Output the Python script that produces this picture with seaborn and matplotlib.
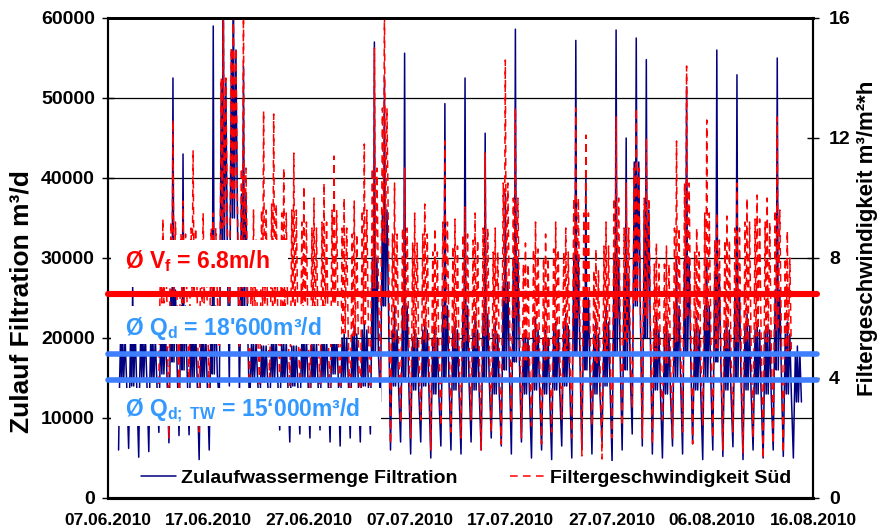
import numpy as np
import pandas as pd
import matplotlib
matplotlib.use('Agg')
import matplotlib.pyplot as plt
from matplotlib.patches import Rectangle
from matplotlib import font_manager
import seaborn as sns

nan = np.nan
# ---------------- data (one set per day, 08.06.2010 .. 15.08.2010)
start_date = '2010-06-08'
# Zulaufwassermenge Filtration [m3/d]
blue_lo = [6000, 6200, 5100, 5800, 8200, 6900, 7800, 7900, 4800, 6000,
           12000, 14000, 13000, 11000, 10000, 10500, 8500, 7000, 8000, 7500,
           8500, 7000, 6500, 7500, 7000, 8000, 12000, 6000, 7000, 5500,
           7000, 5000, 6500, 6000, 5500, 7000, 6000, 7500, 6500, 5500,
           7000, 5000, 6000, 4800, 6500, 5000, 6000, 5500, 7000, 4500,
           6000, 8000, 6500, 5500, 5000, 6500, 5500, 6800, 4800, 6000,
           5200, 6400, 4800, 6000, 5000, 6000, 5200, 5000]
blue_mid = [14500, 14000, 15000, 14500, 15500, 17000, 16000, 15000, 14500, 15500,
            30000, 35000, 22000, 15000, 14500, 15000, 14500, 14000, 15000, 14500,
            15000, 15500, 15000, 14500, 14000, 18000, 24000, 14000, 15000, 13500,
            14000, 13000, 15000, 13500, 14500, 13500, 15000, 13000, 16000, 17000,
            13000, 13500, 13000, 13500, 14000, 18000, 16000, 13000, 14000, 18000,
            16000, 24000, 20000, 13500, 13000, 15000, 18000, 13500, 15000, 17000,
            13500, 15000, 13500, 13000, 13000, 16000, 13000, 12000]
blue_hi = [20000, 21000, 20500, 20000, 21000, 26000, 24000, 21000, 20500, 24000,
           52000, 56000, 38000, 19500, 19000, 20000, 19500, 19000, 20000, 19500,
           20000, 20500, 20000, 20500, 21000, 30000, 36000, 21000, 24000, 20000,
           21000, 20000, 24000, 21000, 24000, 21000, 23000, 20500, 27000, 30000,
           20000, 21000, 20000, 21000, 21500, 30000, 25000, 20500, 22000, 30000,
           28000, 42000, 36000, 21000, 20500, 24000, 30000, 21000, 24000, 28000,
           21000, 26000, 21500, 21000, 21000, 26000, 20500, 18000]
blue_peak = [21000, 26500, 21500, 20500, 22000, 52500, 43000, 22000, 21000, 59000,
             65000, 65000, 54000, 19500, 19000, 20000, 19500, 19000, 20500, 19500,
             20000, 21000, 20500, 21500, 22000, 57000, 52600, 24000, 55600, 21000,
             22000, 21500, 49300, 22000, 52500, 23000, 45600, 22000, 38000, 58600,
             21000, 22500, 21000, 22000, 23000, 57200, 40000, 22000, 24000, 58500,
             45000, 57500, 54800, 23000, 22000, 30000, 51400, 22500, 30000, 56000,
             22000, 52900, 23000, 22000, 21500, 55000, 22000, 19000]
# Filtergeschwindigkeit Sued [m3/m2*h]
red_lo = [nan, nan, nan, nan, 3.8, 2.0, 3.5, 3.9, 2.2, 3.6,
          5.0, 6.0, 5.0, 4.0, 3.8, 4.0, 3.9, 3.7, 3.8, 3.6,
          3.8, 3.5, 3.2, 2.8, 2.5, 3.0, 4.0, 1.8, 2.5, 2.0,
          2.6, 1.6, 2.4, 2.2, 2.0, 2.6, 1.6, 2.2, 1.8, 2.5,
          2.0, 2.4, 1.8, 2.2, 2.6, 2.0, 1.4, 2.4, 1.3, 2.0,
          2.4, 3.0, 2.0, 1.8, 2.6, 2.0, 2.2, 1.8, 2.4, 2.0,
          1.6, 2.2, 1.5, 2.0, 1.3, 1.8, 1.5, nan]
red_mid = [nan, nan, nan, nan, 6.5, 6.8, 6.5, 6.8, 6.5, 6.8,
           9.0, 10.0, 7.0, 5.5, 6.0, 6.2, 6.0, 5.8, 5.6, 5.5,
           5.6, 5.8, 5.5, 5.4, 5.8, 7.0, 8.5, 5.2, 5.6, 5.0,
           5.2, 4.8, 5.6, 5.0, 5.2, 5.0, 5.4, 4.8, 6.5, 6.0,
           4.6, 4.8, 4.6, 4.8, 4.8, 6.0, 5.6, 4.5, 4.8, 6.0,
           5.2, 6.5, 6.0, 4.6, 4.5, 5.2, 6.0, 4.8, 5.6, 5.0,
           5.0, 5.2, 5.2, 5.4, 5.2, 5.6, 4.8, nan]
red_hi = [nan, nan, nan, nan, 8.5, 9.2, 8.8, 9.0, 8.5, 9.0,
          14.0, 15.0, 11.0, 8.6, 9.6, 9.8, 9.5, 9.6, 9.2, 9.0,
          9.2, 9.6, 9.0, 8.8, 9.6, 11.0, 13.0, 8.8, 9.0, 8.5,
          8.8, 8.2, 9.2, 8.4, 8.8, 8.6, 9.0, 8.2, 10.5, 10.0,
          7.8, 8.3, 8.0, 8.3, 8.2, 10.0, 9.5, 7.6, 8.4, 10.0,
          9.0, 11.0, 10.0, 7.8, 7.8, 9.0, 10.5, 8.2, 9.5, 8.6,
          8.6, 9.0, 9.2, 9.3, 9.2, 9.6, 8.0, nan]
red_peak = [nan, nan, nan, nan, 9.3, 12.6, 9.9, 11.6, 9.5, 9.5,
            16.5, 16.5, 16.5, 9.6, 12.9, 12.8, 11.0, 11.5, 10.4, 10.0,
            10.5, 11.4, 10.0, 9.9, 11.8, 15.0, 16.5, 10.5, 11.0, 9.5,
            9.8, 9.0, 11.9, 9.3, 9.7, 9.5, 11.5, 9.0, 14.6, 13.0,
            8.5, 9.2, 8.8, 9.2, 9.0, 13.0, 12.1, 8.3, 9.2, 12.7,
            10.5, 13.0, 12.0, 8.5, 8.4, 11.9, 14.4, 9.0, 12.6, 9.5,
            9.4, 10.5, 10.0, 10.1, 10.0, 12.7, 8.9, nan]

# reference lines
avg_vf = 6.8            # m/h (right axis)
avg_qd_line = 17950     # m3/d (left axis)
avg_qd_tw_line = 14800  # m3/d (left axis)

left_ticks = [0, 10000, 20000, 30000, 40000, 50000, 60000]
right_ticks = [0, 4, 8, 12, 16]
x_tick_labels = ['07.06.2010', '17.06.2010', '27.06.2010', '07.07.2010',
                 '17.07.2010', '27.07.2010', '06.08.2010', '16.08.2010']
series_names = ['Zulaufwassermenge Filtration', 'Filtergeschwindigkeit Süd']

# ---------------- assemble long table (8 samples per day)
day_frac = [0.05, 0.15, 0.25, 0.35, 0.45, 0.55, 0.7, 0.85]
t0 = pd.Timestamp(start_date)
times, bvals, rvals = [], [], []
for i in range(len(blue_lo)):
    bday = [blue_lo[i], blue_mid[i], blue_hi[i], blue_mid[i],
            blue_peak[i], blue_mid[i], blue_hi[i], blue_mid[i]]
    rday = [red_lo[i], red_mid[i], red_hi[i], red_mid[i],
            red_peak[i], red_mid[i], red_hi[i], red_mid[i]]
    for f, b, r in zip(day_frac, bday, rday):
        times.append(t0 + pd.Timedelta(days=i + f))
        bvals.append(b)
        rvals.append(r)
df = pd.DataFrame({'time': times, 'zulauf': bvals, 'vf': rvals})
df_red = df.dropna(subset=['vf'])

# ---------------- styling
sns.set_theme(style='white')
plt.rcParams['font.family'] = ['Liberation Sans', 'DejaVu Sans']
plt.rcParams['font.weight'] = 'bold'
plt.rcParams['mathtext.fontset'] = 'custom'
plt.rcParams['mathtext.rm'] = 'Liberation Sans:bold'
plt.rcParams['mathtext.bf'] = 'Liberation Sans:bold'
plt.rcParams['mathtext.it'] = 'Liberation Sans:bold'

fig = plt.figure(figsize=(8.85, 5.3), dpi=100)
fig.patch.set_facecolor('white')
ax = fig.add_axes([108 / 885, 32 / 530, 705 / 885, 480 / 530])
ax2 = ax.twinx()

sns.lineplot(data=df, x='time', y='zulauf', ax=ax, color='#000080', lw=1.1,
             estimator=None, sort=False, label=series_names[0], legend=False)
sns.lineplot(data=df_red, x='time', y='vf', ax=ax2, color='#FF0000', lw=1.1,
             estimator=None, sort=False, label=series_names[1], legend=False)
red_line = ax2.get_lines()[0]
red_line.set_linestyle((0, (5, 3.5)))

ax.set_xlim(pd.Timestamp('2010-06-07'), pd.Timestamp('2010-08-16'))
ax.set_ylim(0, 60000)
ax2.set_ylim(0, 16)
ax.set_yticks(left_ticks)
ax.set_yticklabels([str(v) for v in left_ticks])
ax2.set_yticks(right_ticks)
ax2.set_yticklabels([str(v) for v in right_ticks])
ax.set_xticks(pd.to_datetime(x_tick_labels, format='%d.%m.%Y'))
ax.set_xticklabels(x_tick_labels)
ax.set_xlabel('')

ax.yaxis.grid(True, color='black', lw=0.9)
ax.xaxis.grid(False)
ax.set_axisbelow(True)

ax.tick_params(axis='y', direction='inout', length=9, width=1, labelsize=14, pad=5, colors='black')
ax.tick_params(axis='x', direction='inout', length=10, width=1, labelsize=12.5, pad=6, colors='black')
ax2.tick_params(axis='y', direction='inout', length=9, width=1, labelsize=14, pad=7, colors='black')

for a in (ax, ax2):
    for s in a.spines.values():
        s.set_color('black')
        s.set_linewidth(1.5)
    a.spines['bottom'].set_linewidth(2.2)
    a.spines['top'].set_linewidth(2.0)

ax.set_ylabel('Zulauf Filtration m³/d', fontsize=19, fontweight='bold', color='black')
ax.yaxis.set_label_coords(-0.106, 0.41)
ax2.set_ylabel('Filtergeschwindigkeit m³/m²*h', fontsize=16, fontweight='bold', color='black')
ax2.yaxis.set_label_coords(1.063, 0.54)

# reference lines (on top of data)
ax2.axhline(avg_vf, xmax=1.006, color='#FF0000', lw=4.4, zorder=15, clip_on=False)
ax2.axhline(avg_qd_line * 16 / 60000, xmax=1.006, color='#3F7FFF', lw=4.0, zorder=15,
            clip_on=False)
ax2.axhline(avg_qd_tw_line * 16 / 60000, xmax=1.006, color='#3F7FFF', lw=4.0, zorder=15,
            clip_on=False)

# white annotation boxes
for (x0, y0, w, h) in [(0.004, 0.4396, 0.251, 0.098),
                       (0.004, 0.321, 0.326, 0.079),
                       (0.004, 0.150, 0.383, 0.079)]:
    ax2.add_patch(Rectangle((x0, y0), w, h, transform=ax2.transAxes, facecolor='white',
                            edgecolor='none', zorder=20))
ax2.text(0.024, 0.479, 'Ø V$_\\mathrm{f}$ = 6.8m/h', transform=ax2.transAxes, color='#FF0000',
         fontsize=16.5, fontweight='bold', zorder=21, va='baseline')
ax2.text(0.024, 0.3396, 'Ø Q$_\\mathrm{d}$ = 18\'600m³/d', transform=ax2.transAxes,
         color='#3399FF', fontsize=16.5, fontweight='bold', zorder=21, va='baseline')
ax2.text(0.024, 0.169, 'Ø Q$_\\mathrm{d;\\ TW}$ = 15‘000m³/d', transform=ax2.transAxes,
         color='#3399FF', fontsize=16.5, fontweight='bold', zorder=21, va='baseline')

handles = [ax.get_lines()[0], red_line]
leg = ax2.legend(handles, series_names, loc='center', bbox_to_anchor=(0.508, 0.042),
                 ncol=2, frameon=True, facecolor='white', edgecolor='none', framealpha=1,
                 fancybox=False, handlelength=1.8, handletextpad=0.26, columnspacing=2.7,
                 borderpad=0.4,
                 prop=font_manager.FontProperties(family='Liberation Sans', weight='bold',
                                                  size=14))
leg.set_zorder(30)
for t in leg.get_texts():
    t.set_color('black')

fig.savefig('out.png', dpi=100, facecolor='white')
